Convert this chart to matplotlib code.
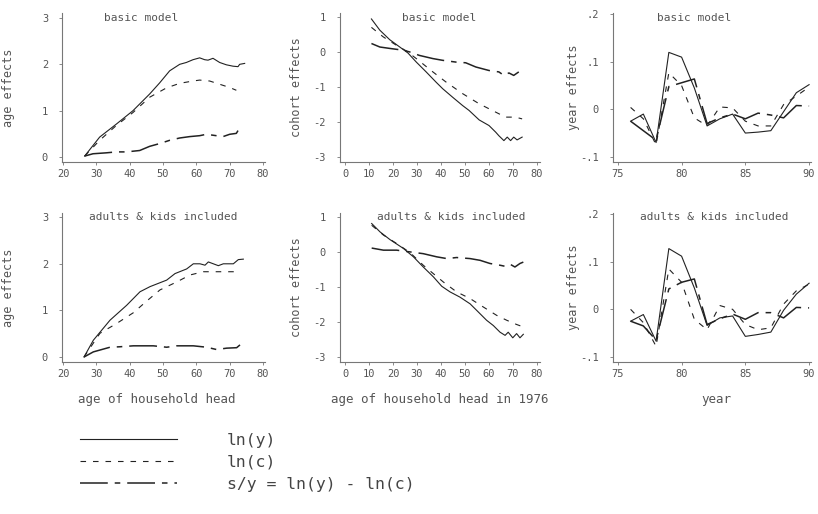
import numpy as np
import matplotlib
matplotlib.use("Agg")
import matplotlib.pyplot as plt
from matplotlib.lines import Line2D

plt.rcParams['font.family'] = ['DejaVu Sans Mono']
plt.rcParams['lines.scale_dashes'] = False

# ---- age effects, basic model
age_y1 = [26.5, 31, 36, 41, 46, 49, 52, 55, 57, 59, 61, 62.5, 63.5, 65, 67, 69, 71, 72.5, 73, 74.5]
lny_age1 = [0.02, 0.43, 0.71, 1.0, 1.36, 1.6, 1.86, 2.0, 2.04, 2.1, 2.14, 2.1, 2.09, 2.13, 2.04, 1.99, 1.96, 1.95, 2.0, 2.02]
age_c1 = [26.5, 31, 36, 41, 46, 51, 55, 59, 61, 64, 67, 70, 72]
lnc_age1 = [0.02, 0.36, 0.68, 0.96, 1.29, 1.49, 1.59, 1.64, 1.66, 1.64, 1.57, 1.5, 1.44]
age_s1 = [26.5, 29, 33, 36, 39, 43, 46, 49, 52, 55, 58, 61, 63, 66, 68, 70, 72, 72.5]
sy_age1 = [0.02, 0.07, 0.09, 0.11, 0.11, 0.14, 0.23, 0.29, 0.36, 0.41, 0.44, 0.46, 0.49, 0.46, 0.44, 0.49, 0.51, 0.57]

# ---- age effects, adults & kids included
age_y2 = [26.3, 29.1, 34.1, 39.1, 43.1, 46.1, 51.1, 53.6, 57.1, 59.1, 61.1, 62.6, 63.6, 66.6, 68.1, 71.1, 72.6, 74.1]
lny_age2 = [0.0, 0.36, 0.79, 1.11, 1.40, 1.51, 1.65, 1.79, 1.89, 2.0, 2.0, 1.97, 2.04, 1.96, 2.0, 2.0, 2.09, 2.1]
age_c2 = [26.3, 31.1, 36.1, 41.1, 45.1, 49.1, 54.1, 58.1, 62.1, 67.1, 72.1]
lnc_age2 = [0.0, 0.51, 0.72, 0.95, 1.2, 1.44, 1.61, 1.76, 1.83, 1.83, 1.83]
age_s2 = [26.3, 29.1, 34.1, 37.1, 41.1, 47.1, 51.1, 54.1, 59.1, 63.1, 66.1, 69.1, 72.1, 73.1]
sy_age2 = [0.0, 0.11, 0.21, 0.22, 0.24, 0.24, 0.21, 0.24, 0.24, 0.21, 0.16, 0.19, 0.20, 0.26]

# ---- cohort effects, basic model
coh_y1 = [11, 14.5, 18.6, 22.8, 26.2, 29.7, 33.8, 37.9, 40.7, 44.8, 49, 51.7, 55.9, 60, 62.8, 64.1, 66.2, 67.6, 69, 70.3, 71.7, 73.8]
lny_coh1 = [0.94, 0.62, 0.35, 0.14, -0.03, -0.29, -0.57, -0.86, -1.05, -1.29, -1.53, -1.67, -1.94, -2.1, -2.29, -2.39, -2.53, -2.43, -2.53, -2.43, -2.51, -2.43]
coh_c1 = [11, 15.9, 21.4, 25.5, 29.7, 36.6, 42.1, 49, 55.9, 61.4, 66.9, 71, 73.8]
lnc_coh1 = [0.70, 0.43, 0.19, 0.03, -0.19, -0.57, -0.86, -1.19, -1.48, -1.67, -1.86, -1.86, -1.91]
coh_s1 = [11, 14.5, 18.6, 24.1, 26.9, 31, 36.6, 40.7, 46.2, 50.3, 54.5, 60, 64.1, 66.2, 68.3, 70.3, 72.4]
sy_coh1 = [0.24, 0.14, 0.1, 0.05, 0.0, -0.1, -0.19, -0.24, -0.29, -0.31, -0.43, -0.53, -0.57, -0.67, -0.6, -0.67, -0.57]

# ---- cohort effects, adults & kids included
coh_y2 = [11.1, 14.6, 18.75, 24.3, 28.5, 32.6, 36.8, 40.3, 43.75, 47.9, 52.1, 54.9, 59, 61.8, 64.6, 66.7, 68, 69.9, 71.5, 72.9, 74.3]
lny_coh2 = [0.81, 0.57, 0.35, 0.10, -0.14, -0.43, -0.71, -0.98, -1.14, -1.29, -1.48, -1.67, -1.95, -2.1, -2.29, -2.38, -2.29, -2.45, -2.33, -2.45, -2.35]
coh_c2 = [11.1, 16, 21.5, 27.1, 32.6, 36.8, 41, 46.5, 52.1, 57.6, 63.2, 67.4, 71.5, 74.3]
lnc_coh2 = [0.76, 0.48, 0.24, -0.02, -0.38, -0.62, -0.86, -1.14, -1.33, -1.57, -1.81, -1.95, -2.07, -2.14]
coh_s2 = [11.1, 16, 21.5, 27.1, 32.6, 38.2, 42.4, 46.5, 52.1, 56.3, 60.4, 64.6, 66.7, 68.75, 70.8, 72.9, 74.3]
sy_coh2 = [0.11, 0.05, 0.05, 0.0, -0.05, -0.14, -0.19, -0.16, -0.19, -0.24, -0.33, -0.38, -0.41, -0.35, -0.43, -0.33, -0.29]

# ---- year effects
years = [76, 77, 78, 79, 80, 81, 82, 83, 84, 85, 86, 87, 88, 89, 90]
lny_yr1 = [-0.025, -0.01, -0.07, 0.12, 0.11, 0.045, -0.035, -0.02, -0.01, -0.05, -0.048, -0.045, -0.005, 0.035, 0.052]
lnc_yr1 = [0.004, -0.02, -0.075, 0.077, 0.05, -0.018, -0.035, 0.005, 0.003, -0.025, -0.035, -0.035, 0.01, 0.028, 0.047]
sy_yr1 = [-0.025, -0.045, -0.065, 0.048, 0.056, 0.064, -0.03, -0.018, -0.01, -0.02, -0.008, -0.012, -0.018, 0.008, 0.007]
lny_yr2 = [-0.025, -0.011, -0.067, 0.128, 0.112, 0.045, -0.034, -0.018, -0.014, -0.057, -0.053, -0.048, -0.002, 0.032, 0.055]
lnc_yr2 = [0.0, -0.028, -0.078, 0.085, 0.057, -0.021, -0.043, 0.008, 0.0, -0.032, -0.043, -0.039, 0.011, 0.039, 0.053]
sy_yr2 = [-0.025, -0.035, -0.065, 0.043, 0.057, 0.064, -0.032, -0.02, -0.01, -0.021, -0.007, -0.007, -0.018, 0.004, 0.003]

labels = ['ln(y)', 'ln(c)', 's/y = ln(y) - ln(c)']

ink = '#222222'
grey = '#555555'
sty_y = dict(color=ink, lw=0.8, linestyle='-')
sty_c = dict(color=ink, lw=0.8, linestyle=(0, (4, 5)))
sty_s = dict(color=ink, lw=1.1, linestyle=(0, (20, 5, 4, 5)))

fig = plt.figure(figsize=(8.18, 5.14), dpi=100)

W, H = 818, 514
def add_ax(l, r, t, b):
    return fig.add_axes([l / W, 1 - b / H, (r - l) / W, (b - t) / H])

cols = [(62, 265), (340, 540), (613, 811)]
rows = [(13, 162), (213, 362)]

panels = [
    [(age_y1, lny_age1, age_c1, lnc_age1, age_s1, sy_age1),
     (coh_y1, lny_coh1, coh_c1, lnc_coh1, coh_s1, sy_coh1),
     (years, lny_yr1, years, lnc_yr1, years, sy_yr1)],
    [(age_y2, lny_age2, age_c2, lnc_age2, age_s2, sy_age2),
     (coh_y2, lny_coh2, coh_c2, lnc_coh2, coh_s2, sy_coh2),
     (years, lny_yr2, years, lnc_yr2, years, sy_yr2)],
]

xlims = [(19.7, 80.6), (-2.1, 81.25), (74.62, 90.15)]
ylims = [[(-0.108, 3.108), (-3.14, 1.11), (-0.111, 0.203)],
         [(-0.107, 3.09), (-3.14, 1.11), (-0.111, 0.203)]]
xticks = [range(20, 81, 10), range(0, 81, 10), [75, 80, 85, 90]]
yticks = [[0, 1, 2, 3], [-3, -2, -1, 0, 1], [-0.1, 0, 0.1, 0.2]]
yticklabels = [['0', '1', '2', '3'], ['-3', '-2', '-1', '0', '1'], ['-.1', '0', '.1', '.2']]
ylabels = ['age effects', 'cohort effects', 'year effects']
ylab_x = [-0.23, -0.185, -0.165]
xlabels = ['age of household head', 'age of household head in 1976', 'year']
xlab_x = [0.468, 0.5, 0.52]
titles = ['basic model', 'adults & kids included']
title_pos = [[(0.39, 0.966), (0.495, 0.966), (0.41, 0.966)],
             [(0.5, 0.97), (0.555, 0.97), (0.51, 0.97)]]

for r, (t, b) in enumerate(rows):
    for c, (l, rr) in enumerate(cols):
        ax = add_ax(l, rr, t, b)
        xy, yy, xc, yc, xs, ys = panels[r][c]
        ax.plot(xy, yy, **sty_y)
        ax.plot(xc, yc, **sty_c)
        ax.plot(xs, ys, **sty_s)
        ax.set_xlim(*xlims[c])
        ax.set_ylim(*ylims[r][c])
        ax.set_xticks(list(xticks[c]))
        ax.set_yticks(yticks[c])
        ax.set_yticklabels(yticklabels[c])
        for s in ['top', 'right']:
            ax.spines[s].set_visible(False)
        for s in ['left', 'bottom']:
            ax.spines[s].set_color('#777777')
            ax.spines[s].set_linewidth(0.8)
        ax.tick_params(axis='both', length=2, width=0.6, color='#777777',
                       labelsize=7.5, labelcolor=grey)
        ax.tick_params(axis='y', pad=8)
        ax.tick_params(axis='x', pad=3)
        ax.set_ylabel(ylabels[c], fontsize=8.5, color=grey)
        ax.yaxis.set_label_coords(ylab_x[c], 0.5)
        if r == 1:
            ax.set_xlabel(xlabels[c], fontsize=9, color=grey)
            ax.xaxis.set_label_coords(xlab_x[c], -0.21)
        tx, ty = title_pos[r][c]
        ax.text(tx, ty, titles[r], transform=ax.transAxes, ha='center', va='center',
                fontsize=8, color=grey)

handles = [Line2D([], [], **sty_y), Line2D([], [], **sty_c), Line2D([], [], **sty_s)]
leg = fig.legend(handles, labels, loc='upper left', bbox_to_anchor=(80 / W, 1 - 433 / H),
                 frameon=False, fontsize=11.8, handlelength=5.9, handletextpad=3.05,
                 labelspacing=0.42, borderpad=0, borderaxespad=0)
for txt in leg.get_texts():
    txt.set_color('#444444')

fig.savefig('out.png', dpi=100, facecolor='white')
